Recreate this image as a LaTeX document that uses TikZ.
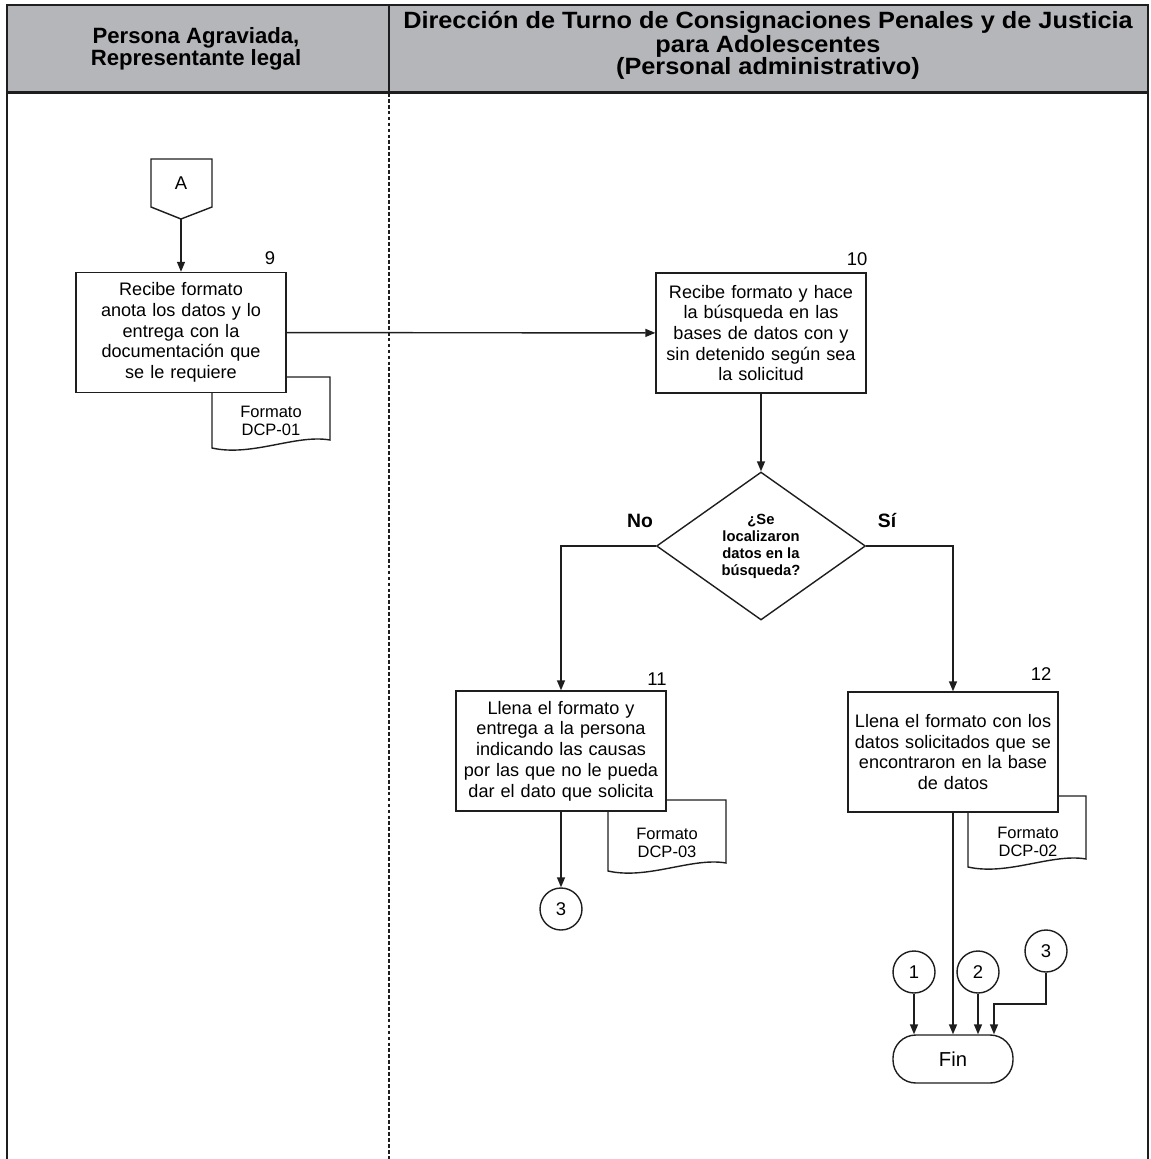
\documentclass[tikz,border=0pt]{standalone}
\usepackage{fontspec}
\setmainfont{Liberation Sans}
\newfontfamily\encabezadoancho[FakeStretch=1.075]{Liberation Sans}
\usepackage{tikz}
\usetikzlibrary{arrows.meta,positioning,shapes.geometric}
\definecolor{grisEncabezado}{RGB}{181,182,186}
\definecolor{tinta}{RGB}{30,30,30}

% hoja de formato (documento), esquina superior izquierda en #1
\newcommand{\hojadoc}[1]{%
  \begin{scope}[shift={#1}]
    \draw[line width=0.8pt, tinta, fill=white] (0,0) -- (118,0) -- (118,63)
      .. controls (84,57) and (40,80) .. (0,71) -- cycle;
  \end{scope}}

\begin{document}
\begin{tikzpicture}[x=0.02cm, y=-0.02cm,
    proceso/.style={draw=tinta, line width=0.8pt, fill=white, minimum width=4.2cm,
      minimum height=2.4cm, text width=4.1cm, align=center, inner sep=1pt,
      font=\fontsize{10.3}{11.8}\selectfont},
    decision/.style={diamond, draw=tinta, line width=0.8pt, fill=white, shape aspect=1.41,
      minimum width=4.18cm, minimum height=2.96cm, inner sep=0pt, align=center,
      font=\bfseries\fontsize{8.4}{9.7}\selectfont},
    conector/.style={circle, draw=tinta, line width=0.8pt, fill=white, minimum size=0.84cm,
      inner sep=0pt, font=\fontsize{10.5}{12.5}\selectfont},
    terminal/.style={rectangle, rounded corners=13pt, draw=tinta, line width=0.8pt, fill=white,
      minimum width=2.4cm, minimum height=0.96cm, font=\fontsize{11.5}{13}\selectfont},
    doctexto/.style={align=center, inner sep=0pt, font=\fontsize{9.4}{10.5}\selectfont},
    numero/.style={inner sep=0pt, font=\fontsize{10.5}{12.5}\selectfont},
    rama/.style={inner sep=0pt, font=\bfseries\fontsize{11}{13}\selectfont},
    encabezado/.style={align=center, inner sep=0pt, font=\bfseries\fontsize{12.6}{12.5}\selectfont},
    flecha/.style={-{Triangle[length=0.2cm,width=0.16cm]}, line width=0.8pt, tinta}]
  \useasboundingbox (0,0) rectangle (1151,1159);

  % Encabezado y carriles
  \fill[grisEncabezado] (7,5) rectangle (1148,92.7);
  \draw[line width=1.6pt, tinta] (7,1159) -- (7,5) -- (1148,5) -- (1148,1159);
  \draw[line width=1.6pt, tinta] (7,92.7) -- (1148,92.7);
  \draw[line width=1.6pt, tinta] (389,5) -- (389,92.7);
  \draw[line width=1.2pt, tinta, dash pattern=on 2.2pt off 1.2pt] (389,92.7) -- (389,1159);
  \node[encabezado] (carril1) at (196,49) {Persona Agraviada,\\Representante legal};
  \node[encabezado, font=\encabezadoancho\bfseries\fontsize{13.4}{12.5}\selectfont] (carril2) at (768,45)
    {Dirección de Turno de Consignaciones Penales y de Justicia\\para Adolescentes\\(Personal administrativo)};

  % Conector de página A
  \draw[line width=0.8pt, tinta] (151,159) -- (212,159) -- (212,207) -- (181,219) -- (151,207) -- cycle;
  \node[numero] (A) at (181,183) {A};
  \coordinate (Apunta) at (181,219);

  % Formatos
  \hojadoc{(212,377)}
  \hojadoc{(608,800)}
  \hojadoc{(968,796)}
  \node[doctexto] (doc1) at (271,421) {Formato\\DCP-01};
  \node[doctexto] (doc3) at (667,843) {Formato\\DCP-03};
  \node[doctexto] (doc2) at (1028,842) {Formato\\DCP-02};

  % Actividades
  \node[proceso] (p9) at (181,332.5)
    {Recibe formato\\anota los datos y lo\\entrega con la\\documentación que\\se le requiere};
  \node[proceso] (p10) at (761,333)
    {Recibe formato y hace\\la búsqueda en las\\bases de datos con y\\sin detenido según sea\\la solicitud};
  \node[decision] (dec) at (761,546) {¿Se\\localizaron\\datos en la\\búsqueda?};
  \node[proceso] (p11) at (561,751)
    {Llena el formato y\\entrega a la persona\\indicando las causas\\por las que no le pueda\\dar el dato que solicita};
  \node[proceso] (p12) at (953,752)
    {Llena el formato con los\\datos solicitados que se\\encontraron en la base\\de datos};
  \node[numero] (n9) at (270,258) {9};
  \node[numero] (n10) at (857,259) {10};
  \node[numero] (n11) at (657,679) {11};
  \node[numero] (n12) at (1041,674) {12};
  \node[rama] (no) at (640,521) {No};
  \node[rama] (si) at (887,521) {Sí};

  % Conectores y fin
  \node[conector] (c3a) at (561,909) {3};
  \node[conector] (c1) at (914,972) {1};
  \node[conector] (c2) at (978,972) {2};
  \node[conector] (c3b) at (1046,951) {3};
  \node[terminal] (fin) at (953,1059) {Fin};
  \coordinate (codo3) at (994,1004);

  % Flujo
  \draw[flecha] (Apunta) -- (p9);
  \draw[flecha] (p9) -- (p10);
  \draw[flecha] (p10) -- (dec);
  \draw[flecha] (dec.west) -| (p11);
  \draw[flecha] (dec.east) -| (p12);
  \draw[flecha] (p11) -- (c3a);
  \draw[flecha] (p12) -- (fin);
  \draw[flecha] (c1) -- (c1 |- fin.north);
  \draw[flecha] (c2) -- (c2 |- fin.north);
  \draw[flecha] (c3b) |- (codo3) -- (codo3 |- fin.north);
\end{tikzpicture}
\end{document}
